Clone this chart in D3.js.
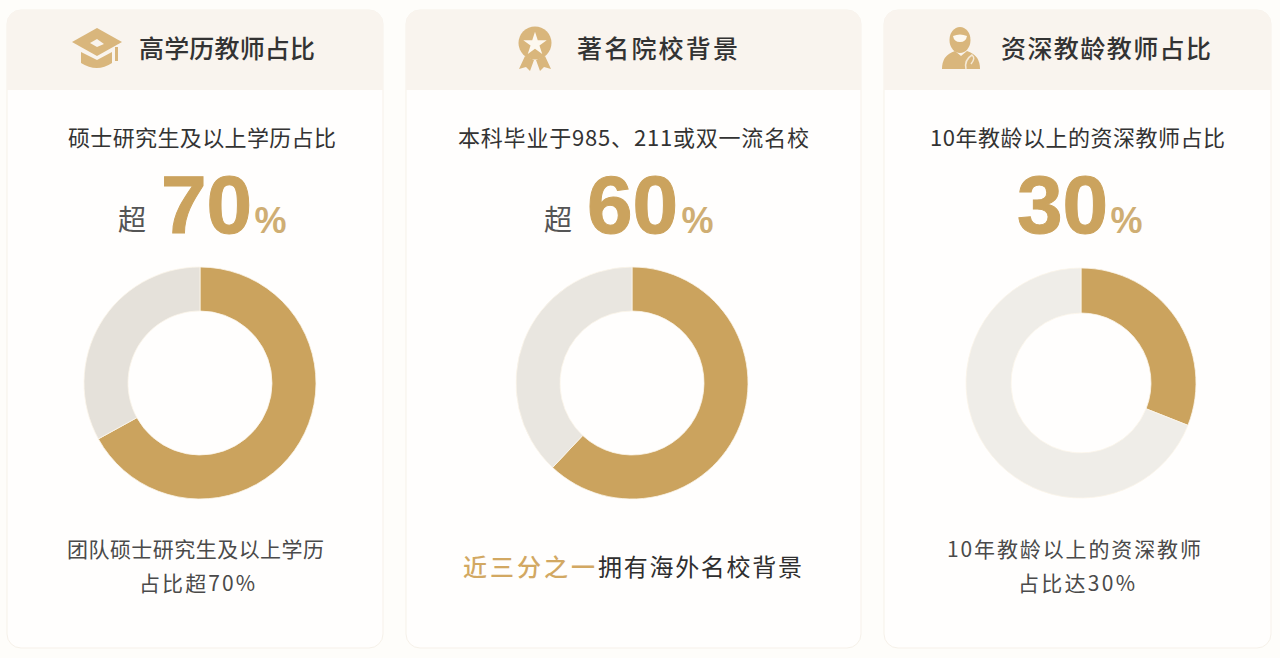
<!DOCTYPE html>
<html><head><meta charset="utf-8">
<script src="https://cdn.jsdelivr.net/npm/d3@7/dist/d3.min.js"></script>
<style>html,body{margin:0;padding:0;background:#fefdfa;overflow:hidden}
text{font-family:"Noto Sans CJK SC","Noto Sans",sans-serif}</style></head>
<body><svg id="c" width="1280" height="658"></svg>
<script>
const titles=["高学历教师占比","著名院校背景","资深教龄教师占比"];
const subtitles=["硕士研究生及以上学历占比","本科毕业于985、211或双一流名校","10年教龄以上的资深教师占比"];
const prefixes=["超","超",""];
const shareLabels=["70","60","30"];
const arcValues=[67,62,31];
const arcRemainders=[33,38,69];
const notes=[["团队硕士研究生及以上学历","占比超70%"],[],["10年教龄以上的资深教师","占比达30%"]];
const midNoteGold="近三分之一", midNoteDark="拥有海外名校背景";
const gold="#cba35e", restColors=["#e5e1da","#e9e6e0","#efede8"];
const cards=[
 {x:7,w:376,cx:200,cy:383,r:116,ri:72,title:[139,315],sub:[68,336],num:161,pct:254.5,pre:118,notes:[[67,324],[139,255]]},
 {x:406,w:455,cx:632,cy:383,r:116,ri:72,title:[577,738],sub:[458,809],num:587,pct:681.5,pre:544,notes:[]},
 {x:884,w:387,cx:1081,cy:383,r:115,ri:70,title:[1001,1211],sub:[930,1225],num:1017,pct:1110.5,pre:0,notes:[[947,1201],[1018,1135]]}];
const svg=d3.select("#c");
const defs=svg.append("defs");
function fit(g,txt,span,y,size,fill,weight){
 return g.append("text").attr("x",span[0]).attr("y",y).attr("font-size",size).attr("font-weight",weight||400)
  .attr("textLength",span[1]-span[0]).attr("lengthAdjust","spacing").attr("fill",fill).text(txt);
}
cards.forEach((c,i)=>{
 defs.append("clipPath").attr("id","h"+i).append("rect").attr("x",c.x).attr("y",9).attr("width",c.w).attr("height",81);
 const g=svg.append("g");
 g.append("rect").attr("x",c.x).attr("y",10).attr("width",c.w).attr("height",638).attr("rx",14).attr("fill","#fffefd").attr("stroke","#f6f1e9");
 g.append("rect").attr("x",c.x).attr("y",10).attr("width",c.w).attr("height",638).attr("rx",14).attr("fill","#f9f4ee").attr("clip-path",`url(#h${i})`);
 fit(g,titles[i],c.title,58,25,"#333",500);
 fit(g,subtitles[i],c.sub,146,22,"#333");
 if(prefixes[i]) g.append("text").attr("x",c.pre).attr("y",230).attr("font-size",28).attr("fill","#555").text(prefixes[i]);
 g.append("text").attr("x",c.num).attr("y",233).style("font-family","'Liberation Sans'").attr("font-weight",700).attr("font-size",82).attr("fill",gold).attr("stroke",gold).attr("stroke-width",1).text(shareLabels[i]);
 g.append("text").attr("x",c.pct).attr("y",233).style("font-family","'Liberation Sans'").attr("font-weight",700).attr("font-size",36).attr("fill","#cfae74").text("%");
 const pie=d3.pie().sort(null)([arcValues[i],arcRemainders[i]]);
 const arc=d3.arc().innerRadius(c.ri).outerRadius(c.r);
 g.append("g").attr("transform",`translate(${c.cx},${c.cy})`).selectAll("path").data(pie).join("path").attr("d",arc)
  .attr("fill",(d,k)=>k==0?gold:restColors[i]).attr("stroke","#fbf5ea").attr("stroke-width",0.8);
 notes[i].forEach((t,k)=>fit(g,t,c.notes[k],557+k*33.5,21,"#4a4a4a"));
});
fit(svg,midNoteGold,[463,595],576,24,"#d2a862",500);
fit(svg,midNoteDark,[598,802],576,24,"#2f2f2f");
// icons
const ic="#d9b67c", hole="#f9f4ee";
const cap=svg.append("g").attr("fill",ic);
cap.append("path").attr("d","M97 28L122 42L97 56L72 42Z");
cap.append("path").attr("d","M81 52L97 60L112 52V63Q97 73 81 63Z");
cap.append("rect").attr("x",115).attr("y",47).attr("width",3).attr("height",14);
cap.append("path").attr("d","M90 43L97 39L104 44L97 47Z").attr("fill",hole);
const med=svg.append("g").attr("fill",ic);
med.append("path").attr("d","M525 56L519 69L526 67L530 71L534 60ZM545 56L551 69L544 67L540 71L536 60Z");
med.append("circle").attr("cx",535).attr("cy",43).attr("r",16.5);
med.append("path").attr("fill","#fdf8ef").attr("d",d3.symbol(d3.symbolStar,170)()).attr("transform","translate(535,44)");
const per=svg.append("g").attr("fill",ic);
per.append("ellipse").attr("cx",960).attr("cy",40).attr("rx",10.5).attr("ry",13);
per.append("path").attr("d","M942 69Q942 55 955 51L961 56L967 51Q980 55 980 69Z");
per.append("path").attr("d","M953 36Q960 33 967 36Q966 42 960 42Q954 42 953 36Z").attr("fill","#fdf8ef");
per.append("path").attr("d","M966 69Q964 60 972 55Q976 58 971 64").attr("stroke","#f5e9d6").attr("stroke-width",1.5).attr("fill","none");
</script></body></html>
